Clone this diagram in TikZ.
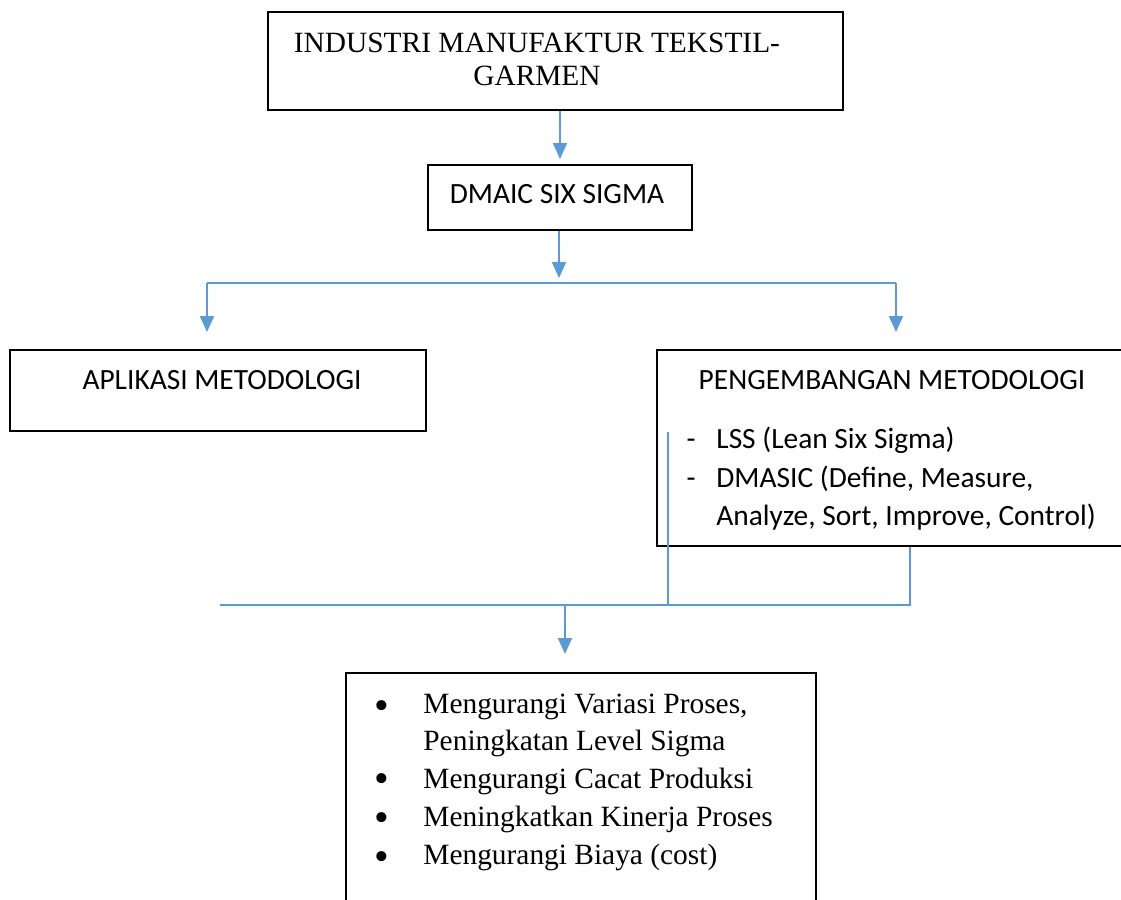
\documentclass[tikz,border=0pt]{standalone}
\usepackage{fontspec}
\setmainfont{Liberation Serif}
\newfontfamily\calibri{Carlito}
\usetikzlibrary{arrows.meta}
\definecolor{line_blue}{RGB}{91,155,213}
\tikzstyle{box}=[rectangle,draw=black,line width=1pt,inner sep=0pt]
\tikzstyle{arr}=[draw=line_blue,line width=1pt,-{Triangle[width=7pt,length=8pt]}]
\tikzstyle{ln}=[draw=line_blue,line width=0.7pt]
\tikzstyle{sr}=[inner sep=0pt,anchor=base,font=\fontsize{14.7}{16.5}\selectfont]
\tikzstyle{cb}=[inner sep=0pt,anchor=base,font=\calibri\fontsize{14.7}{19.5}\selectfont]
\tikzstyle{bul}=[inner sep=0pt,anchor=north,font=\fontsize{21}{21}\selectfont]

\begin{document}
\begin{tikzpicture}[x=0.5pt,y=-0.5pt]
        \useasboundingbox (0,0) rectangle (1121,900);
        \clip (0,0) rectangle (1121,900);
        % boxes
        \node[style=box,minimum width=287.5pt,minimum height=49pt] (industri) at (555.5,61) {};
        \node[style=box,minimum width=132pt,minimum height=32.5pt] (dmaic) at (560,197.5) {};
        \node[style=box,minimum width=208pt,minimum height=40.5pt] (aplikasi) at (218,390.5) {};
        \node[style=box,minimum width=239pt,minimum height=98pt] (pengembangan) at (896,448) {};
        \node[style=box,minimum width=235pt,minimum height=133.5pt] (hasil) at (581,806.5) {};
        % texts
        \node[style=sr,align=center] (industri_t) at (537,85) {INDUSTRI MANUFAKTUR TEKSTIL-\\GARMEN};
        \node[style=cb] (dmaic_t) at (557,203) {DMAIC SIX SIGMA};
        \node[style=cb] (aplikasi_t) at (222,389) {APLIKASI METODOLOGI};
        \node[style=cb] (pengembangan_t) at (892,389) {PENGEMBANGAN METODOLOGI};
        \node[style=cb] (d1) at (691,448) {-};
        \node[style=cb,anchor=base west] (lss) at (716,448) {LSS (Lean Six Sigma)};
        \node[style=cb] (d2) at (691,487) {-};
        \node[style=cb,anchor=base west] (dmasic) at (716,487) {DMASIC (Define, Measure,};
        \node[style=cb,anchor=base west] (dmasic2) at (716,525) {Analyze, Sort, Improve, Control)};
        \foreach \i/\y in {1/700,2/773,3/812,4/851}
            \node[style=bul] (bul\i) at (382,\y) {\textbullet};
        \node[style=sr,anchor=base west] (h1) at (423,713) {Mengurangi Variasi Proses,};
        \node[style=sr,anchor=base west] (h2) at (423,750) {Peningkatan Level Sigma};
        \node[style=sr,anchor=base west] (h3) at (423,788) {Mengurangi Cacat Produksi};
        \node[style=sr,anchor=base west] (h4) at (423,826) {Meningkatkan Kinerja Proses};
        \node[style=sr,anchor=base west] (h5) at (423,864) {Mengurangi Biaya (cost)};
        % connectors
        \coordinate (1) at (559,283);
        \coordinate (2) at (207,283);
        \coordinate (3) at (896,283);
        \coordinate (4) at (668,432);
        \coordinate (5) at (668,605);
        \coordinate (6) at (910,605);
        \coordinate (7) at (220,605);
        \coordinate (8) at (565,605);
        \draw[style=arr,shorten >=2.5pt] (industri.south -| dmaic.north) to (dmaic.north);
        \draw[style=arr,shorten >=2.5pt] (dmaic.south -| 1) to (1);
        \draw[style=ln] (2) to (3);
        \draw[style=arr,shorten >=8.5pt] (2) to (2 |- aplikasi.north);
        \draw[style=arr,shorten >=8.5pt] (3) to (3 |- pengembangan.north);
        \draw[style=ln] (4) to (5);
        \draw[style=ln] (pengembangan.south -| 6) to (6) to (7);
        \draw[style=arr,shorten >=9pt] (8) to (8 |- hasil.north);
    \end{tikzpicture}
\end{document}
